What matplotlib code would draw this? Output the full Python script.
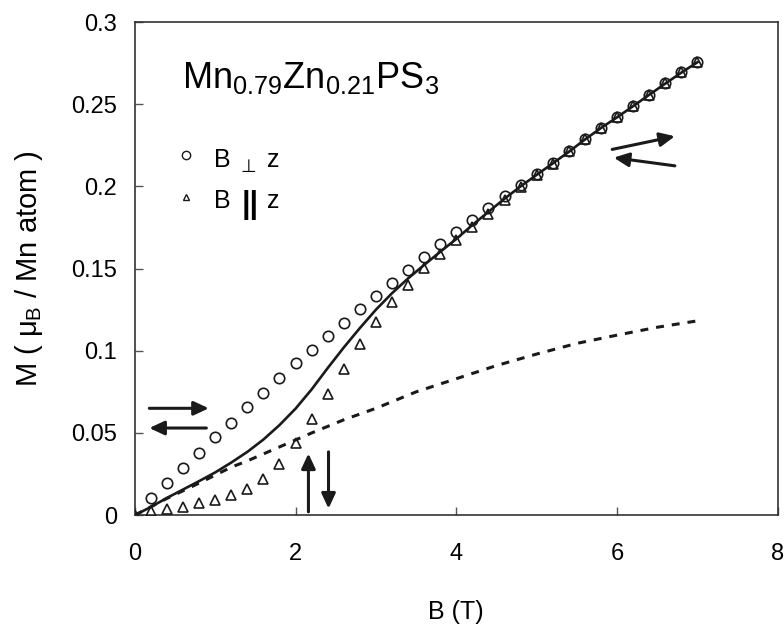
import numpy as np
import matplotlib.pyplot as plt

plt.rcParams['font.family'] = ['Liberation Sans', 'DejaVu Sans']
plt.rcParams['mathtext.fontset'] = 'custom'
plt.rcParams['mathtext.rm'] = 'Liberation Sans'
plt.rcParams['mathtext.it'] = 'Liberation Sans'
plt.rcParams['xtick.labelsize'] = 17
plt.rcParams['ytick.labelsize'] = 17

# measured points, B perpendicular to z (circles)
b_perp = [0.2, 0.4, 0.6, 0.8, 1.0, 1.2, 1.4, 1.6, 1.8, 2.0, 2.2, 2.4, 2.6, 2.8,
          3.0, 3.2, 3.4, 3.6, 3.8, 4.0, 4.2, 4.4, 4.6, 4.8, 5.0, 5.2, 5.4, 5.6,
          5.8, 6.0, 6.2, 6.4, 6.6, 6.8, 7.0]
m_perp = [0.0105, 0.0197, 0.0288, 0.038, 0.0476, 0.056, 0.0655, 0.0744, 0.0833,
          0.0923, 0.1005, 0.109, 0.117, 0.1257, 0.1336, 0.1413, 0.149, 0.157,
          0.1647, 0.172, 0.1794, 0.1866, 0.1939, 0.2009, 0.2078, 0.2145, 0.2213,
          0.2287, 0.2356, 0.2423, 0.2488, 0.2559, 0.2626, 0.2693, 0.2755]

# measured points, B parallel to z (triangles)
b_par = [0.0, 0.2, 0.4, 0.6, 0.8, 1.0, 1.2, 1.4, 1.6, 1.8, 2.0, 2.2, 2.4, 2.6,
         2.8, 3.0, 3.2, 3.4, 3.6, 3.8, 4.0, 4.2, 4.4, 4.6, 4.8, 5.0, 5.2, 5.4,
         5.6, 5.8, 6.0, 6.2, 6.4, 6.6, 6.8, 7.0]
m_par = [0.0, 0.0026, 0.0038, 0.005, 0.0075, 0.009, 0.012, 0.016, 0.022, 0.031,
         0.0436, 0.0586, 0.0736, 0.0892, 0.1044, 0.1176, 0.1298, 0.1403, 0.1502,
         0.1588, 0.1673, 0.1754, 0.1835, 0.1916, 0.1997, 0.2068, 0.2139, 0.2213,
         0.2287, 0.2356, 0.2423, 0.2488, 0.2559, 0.2626, 0.2693, 0.2755]

# solid curve
b_solid = [0.0, 0.2, 0.4, 0.6, 0.8, 1.0, 1.2, 1.4, 1.6, 1.8, 2.0, 2.2, 2.4, 2.6,
           2.8, 3.0, 3.2, 3.4, 3.6, 3.8, 4.0, 4.2, 4.4, 4.6, 4.8, 5.0, 5.2, 5.4,
           5.6, 5.8, 6.0, 6.2, 6.4, 6.6, 6.8, 7.0]
m_solid = [0.0, 0.005, 0.0105, 0.0156, 0.0207, 0.026, 0.032, 0.0385, 0.046, 0.0548,
           0.0648, 0.0765, 0.0895, 0.102, 0.1138, 0.1250, 0.1350, 0.1440, 0.1522,
           0.1602, 0.168, 0.1765, 0.1845, 0.1925, 0.2, 0.207, 0.214, 0.221,
           0.2285, 0.2355, 0.242, 0.2488, 0.2557, 0.2625, 0.2692, 0.2755]

# dashed curve
b_dash = [0.0, 0.4, 0.8, 1.2, 1.4, 1.8, 2.2, 2.6, 3.0, 3.5, 4.0, 4.5, 5.0, 5.5,
          6.0, 6.5, 7.0]
m_dash = [0.0, 0.0102, 0.0195, 0.0292, 0.033, 0.0415, 0.050, 0.058, 0.065,
          0.075, 0.083, 0.091, 0.098, 0.1045, 0.1095, 0.1143, 0.1182]

fig = plt.figure(figsize=(7.84, 6.29), dpi=100)
ax = fig.add_axes([0.172, 0.181, 0.82, 0.784])

ax.plot(b_solid, m_solid, color='#1a1a1a', lw=1.9, zorder=3)
ax.plot(b_dash, m_dash, color='#1a1a1a', lw=2.2, dashes=(2.6, 2.6), zorder=3)
ax.plot(b_perp, m_perp, 'o', ms=7.5, mfc='none', mec='#1a1a1a', mew=1.2, zorder=4)
ax.plot(b_par, m_par, '^', ms=7.5, mfc='none', mec='#1a1a1a', mew=1.2, zorder=4)

ax.set_xlim(0, 8)
ax.set_ylim(0, 0.3)
ax.set_xticks([0, 2, 4, 6, 8])
ax.set_yticks([0, 0.05, 0.1, 0.15, 0.2, 0.25, 0.3])
ax.set_yticklabels(['0', '0.05', '0.1', '0.15', '0.2', '0.25', '0.3'], fontsize=17)
ax.set_xticklabels(['0', '2', '4', '6', '8'], fontsize=17)
ax.tick_params(direction='in', length=6, width=1, color='#555555')
ax.tick_params(axis='x', pad=20)
ax.tick_params(axis='y', pad=13)
for s in ax.spines.values():
    s.set_linewidth(1.2)
    s.set_color('#333333')

ax.set_xlabel('B (T)', fontsize=18, labelpad=25)
ax.set_ylabel(r'M ( $\mu_{\rm B}$ / Mn atom )', fontsize=21, labelpad=19)

ax.text(0.59, 0.2597, r'Mn$_{0.79}$Zn$_{0.21}$PS$_{3}$', fontsize=26,
        va='baseline', ha='left')

# legend drawn by hand
ax.plot([0.64], [0.219], 'o', ms=6, mfc='none', mec='#1a1a1a', mew=1.0)
ax.plot([0.64], [0.1934], '^', ms=5, mfc='none', mec='#1a1a1a', mew=1.0)
ax.text(0.99, 0.216, 'B', fontsize=18, va='center')
ax.text(1.32, 0.2115, '\u22a5', fontsize=13, va='center')
ax.text(1.64, 0.216, 'z', fontsize=18, va='center')
ax.text(0.99, 0.191, 'B', fontsize=18, va='center')
ax.text(1.33, 0.1885, '||', fontsize=22, va='center', fontweight='bold')
ax.text(1.64, 0.191, 'z', fontsize=18, va='center')

arrow = dict(arrowstyle='-|>,head_length=0.9,head_width=0.42', color='#1a1a1a',
             lw=2.2, shrinkA=0, shrinkB=0)
ax.annotate('', xy=(0.92, 0.065), xytext=(0.18, 0.065), arrowprops=arrow)
ax.annotate('', xy=(0.18, 0.053), xytext=(0.89, 0.053), arrowprops=arrow)
ax.annotate('', xy=(2.16, 0.0375), xytext=(2.16, 0.002), arrowprops=arrow)
ax.annotate('', xy=(2.41, 0.004), xytext=(2.41, 0.0385), arrowprops=arrow)
ax.annotate('', xy=(6.72, 0.2305), xytext=(5.94, 0.2225), arrowprops=arrow)
ax.annotate('', xy=(5.96, 0.2175), xytext=(6.72, 0.2125), arrowprops=arrow)

fig.savefig('out.png', dpi=100)
